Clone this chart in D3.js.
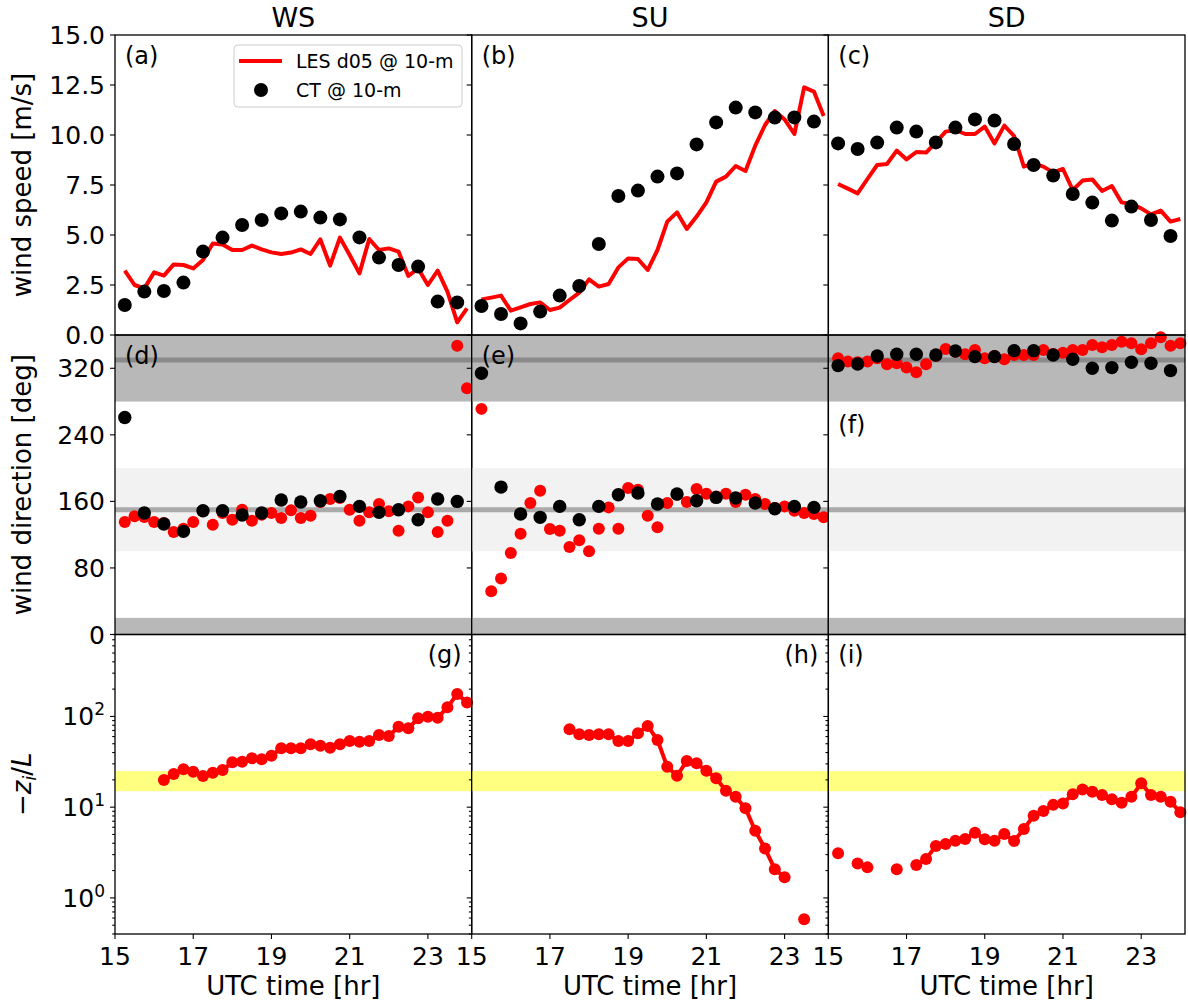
<!DOCTYPE html>
<html>
<head>
<meta charset="utf-8">
<script src="https://cdn.jsdelivr.net/npm/d3@7"></script>
<style>
  body { margin: 0; background: #fff; }
  svg { display: block; }
  text { font-family: "DejaVu Sans", sans-serif; fill: #000; }
</style>
</head>
<body>
<svg id="fig" width="1188" height="1003"></svg>
<script>
// ---- data -------------------------------------------------------------
// LES output every 15 min, tower (CT) observations every 30 min
const lesTime = [15.25, 15.5, 15.75, 16.0, 16.25, 16.5, 16.75, 17.0, 17.25, 17.5, 17.75, 18.0,
                 18.25, 18.5, 18.75, 19.0, 19.25, 19.5, 19.75, 20.0, 20.25, 20.5, 20.75, 21.0,
                 21.25, 21.5, 21.75, 22.0, 22.25, 22.5, 22.75, 23.0, 23.25, 23.5, 23.75, 24.0];
const ctTime = [15.25, 15.75, 16.25, 16.75, 17.25, 17.75, 18.25, 18.75, 19.25,
                19.75, 20.25, 20.75, 21.25, 21.75, 22.25, 22.75, 23.25, 23.75];

const siteNames = ["WS", "SU", "SD"];
const panelTags = [["(a)", "(b)", "(c)"], ["(d)", "(e)", "(f)"], ["(g)", "(h)", "(i)"]];

// wind speed [m/s]
const wsSpeedLES = [3.22, 2.5, 2.33, 3.13, 2.97, 3.53, 3.5, 3.33, 3.75, 4.58, 4.53, 4.25,
                    4.25, 4.47, 4.28, 4.13, 4.05, 4.12, 4.28, 4.05, 4.78, 3.47, 4.87, 4.0,
                    3.08, 4.8, 4.25, 4.33, 4.17, 2.95, 3.33, 2.5, 3.22, 2.17, 0.63, 1.33];
const suSpeedLES = [1.78, 1.87, 1.97, 1.22, 1.38, 1.55, 1.63, 1.25, 1.37, 1.75, 2.12, 2.78,
                    2.42, 2.55, 3.38, 3.83, 3.8, 3.25, 4.25, 5.67, 6.13, 5.3, 5.92, 6.63,
                    7.67, 7.92, 8.45, 8.2, 9.47, 10.5, 11.2, 10.78, 10.05, 12.38, 12.17, 10.95];
const sdSpeedLES = [7.55, 7.32, 7.08, 7.8, 8.5, 8.55, 9.22, 8.78, 9.15, 9.12, 9.63, 10.17,
                    10.25, 10.05, 10.05, 10.42, 9.58, 10.47, 9.95, 8.42, 8.58, 8.42, 8.13, 8.3,
                    7.25, 7.72, 7.78, 7.2, 7.45, 6.63, 6.55, 6.33, 6.03, 6.22, 5.67, 5.8];
const wsSpeedCT = [1.5, 2.17, 2.2, 2.62, 4.17, 4.87, 5.5, 5.75, 6.08, 6.17, 5.87, 5.78,
                   4.88, 3.87, 3.5, 3.42, 1.67, 1.63];
const suSpeedCT = [1.45, 1.05, 0.58, 1.17, 1.97, 2.45, 4.55, 6.95, 7.22, 7.92, 8.08, 9.53,
                   10.63, 11.37, 11.13, 10.87, 10.88, 10.67];
const sdSpeedCT = [9.58, 9.3, 9.62, 10.37, 10.17, 9.63, 10.37, 10.78, 10.72, 9.55, 8.5, 7.97,
                   7.05, 6.62, 5.72, 6.42, 5.75, 4.95];

// wind direction [deg]
const wsDirLES = [135.2, 142, 141.2, 135.2, 134, 123.2, 127.2, 135.2, 148, 132, 146, 138,
                  150, 136.8, 144, 146, 140, 149.2, 140, 142.8, 159.2, 162.8, 164, 150,
                  136.8, 146.8, 156.8, 148, 124.8, 154, 164.8, 146.8, 123.2, 136.8, 347.2, 296];
const suDirLES = [271.2, 52, 67.2, 98, 121.2, 158, 172.8, 126.8, 124.8, 105.2, 113.2, 100,
                  127.2, 152.8, 127.2, 176, 174, 142.8, 128.8, 158, 168, 159.2, 174.8, 169.2,
                  166, 169.2, 159.2, 168, 162.8, 156.8, 152, 154, 148.8, 146, 144.8, 140.8];
const sdDirLES = [332, 328, 327.2, 328, 332, 324.8, 326, 320.8, 315.2, 324.8, 334.8, 343.2,
                  340, 336.8, 342, 332, 334.8, 330.8, 336, 336, 336, 342, 337.2, 338.8,
                  342, 342, 348, 345.2, 348, 352, 350, 342.8, 350, 357.2, 347.2, 350];
const wsDirCT = [260.8, 146, 132.8, 124, 148.8, 148.8, 143.6, 146, 161.6, 159.2, 160.8, 166,
                 154, 146.8, 150, 138, 162.8, 160];
const suDirCT = [314, 177.2, 144.8, 140.8, 154, 138, 154, 168, 170, 156.8, 168.8, 160.8,
                 164.8, 164, 158, 151.2, 154, 152.8];
const sdDirCT = [323.2, 325.2, 334.8, 336.8, 336.8, 336, 340.8, 334, 334, 341.2, 341.2, 336,
                 330.8, 320, 320.8, 327.2, 326, 317.2];

// stability parameter -zi/L (null = not available)
const wsZiL = [null, null, null, null, 19.9, 23.2, 26.1, 24.6, 22.0, 24.0, 25.7, 31.2,
               31.7, 34.6, 33.7, 36.9, 44.5, 44.5, 44.5, 49.3, 47.6, 45.2, 49.3, 53.6,
               52.7, 53.6, 62.4, 60.8, 77.1, 74.0, 95.3, 99.4, 96.8, 126, 177, 142];
const suZiL = [null, null, null, null, null, null, null, null, null, 72.1, 63.5, 62.4,
               63.5, 63.5, 53.6, 53.6, 65.2, 78.5, 55.0, 27.9, 22.2, 32.3, 30.4, 25.2,
               20.8, 15.2, 13.0, 9.7, 5.5, 3.5, 2.07, 1.69, null, 0.58, null, null];
const sdZiL = [3.10, null, 2.40, 2.17, null, null, 2.07, null, 2.30, 2.69, 3.73, 3.93,
               4.27, 4.46, 5.23, 4.42, 4.27, 5.06, 4.24, 5.74, 8.05, 9.08, 10.6, 11.0,
               13.9, 15.7, 14.8, 13.6, 12.2, 11.2, 13.0, 18.3, 13.6, 13.0, 11.5, 8.77];

// axis ticks and shaded reference ranges
const timeTicks = [15, 17, 19, 21, 23];
const speedTicks = [0, 2.5, 5, 7.5, 10, 12.5, 15];
const dirTicks = [0, 80, 160, 240, 320];
const stabTicks = [1, 10, 100];
const dirBandNorth = [280, 380];   // wraps through 360
const dirBandSouth = [100, 200];
const stabBand = [15, 25];

const speedLES = [wsSpeedLES, suSpeedLES, sdSpeedLES];
const speedCT = [wsSpeedCT, suSpeedCT, sdSpeedCT];
const dirLES = [wsDirLES, suDirLES, sdDirLES];
const dirCT = [wsDirCT, suDirCT, sdDirCT];
const ziL = [wsZiL, suZiL, sdZiL];

// ---- layout -----------------------------------------------------------
const svg = d3.select("#fig");
const colLeft = [115, 471.7, 828.3];
const colW = 356.7;
const rowTop = [35, 335, 634.5];
const rowBot = [335, 634.5, 934];
const FONT_TICK = 25, FONT_LABEL = 26, FONT_TITLE = 27, FONT_TAG = 24;
const RED = "#ff0000";

const xScales = colLeft.map(l => d3.scaleLinear().domain([15, 24.12]).range([l, l + colW]));
const ySpeed = d3.scaleLinear().domain([0, 15]).range([rowBot[0], rowTop[0]]);
const yDir = d3.scaleLinear().domain([0, 360]).range([rowBot[1], rowTop[1]]);
const yStab = d3.scaleLog().domain([0.4, 800]).range([rowBot[2], rowTop[2]]);

function yTicks(g, scale, values, x0, withLabels, fmt, len) {
  values.forEach(v => {
    const y = scale(v);
    g.append("line").attr("x1", x0 - len).attr("x2", x0).attr("y1", y).attr("y2", y)
      .attr("stroke", "#000").attr("stroke-width", 1.1);
    if (withLabels && fmt) {
      fmt(g, x0 - 10, y, v);
    }
  });
}

function plainLabel(f) {
  return (g, x, y, v) => g.append("text").attr("x", x).attr("y", y + 9)
    .attr("text-anchor", "end").attr("font-size", FONT_TICK).text(f(v));
}
function powLabel(g, x, y, v) {
  const t = g.append("text").attr("x", x).attr("y", y + 9)
    .attr("text-anchor", "end").attr("font-size", FONT_TICK);
  t.append("tspan").text("10");
  t.append("tspan").attr("dy", -10).attr("font-size", 17).text(Math.round(Math.log10(v)));
}

for (let c = 0; c < 3; c++) {
  const x = xScales[c];
  const L = colLeft[c], R = L + colW;

  // column title
  svg.append("text").attr("x", (L + R) / 2).attr("y", 27).attr("text-anchor", "middle")
    .attr("font-size", FONT_TITLE).text(siteNames[c]);

  // ---------- row 1: wind speed ----------
  const g1 = svg.append("g");
  const lesS = lesTime.map((t, i) => ({ t, v: speedLES[c][i] }));
  g1.append("path").datum(lesS)
    .attr("d", d3.line().x(d => x(d.t)).y(d => ySpeed(d.v)))
    .attr("fill", "none").attr("stroke", RED).attr("stroke-width", 4)
    .attr("stroke-linejoin", "round");
  g1.selectAll("circle.ct").data(ctTime.map((t, i) => ({ t, v: speedCT[c][i] })))
    .join("circle").attr("cx", d => x(d.t)).attr("cy", d => ySpeed(d.v)).attr("r", 7)
    .attr("fill", "#000");

  // ---------- row 2: wind direction ----------
  const g2 = svg.append("g");
  const band = (lo, hi, fill) => g2.append("rect").attr("x", L).attr("width", colW)
    .attr("y", yDir(Math.min(hi, 360))).attr("height", yDir(lo) - yDir(Math.min(hi, 360)))
    .attr("fill", fill);
  band(dirBandNorth[0], 360, "#b8b8b8");
  band(0, dirBandNorth[1] - 360, "#b8b8b8");
  band(dirBandSouth[0], dirBandSouth[1], "#f2f2f2");
  const centre = (v, col) => g2.append("line").attr("x1", L).attr("x2", R)
    .attr("y1", yDir(v)).attr("y2", yDir(v)).attr("stroke", col).attr("stroke-width", 5);
  centre((dirBandNorth[0] + dirBandNorth[1]) / 2, "#8a8a8a");
  centre((dirBandSouth[0] + dirBandSouth[1]) / 2, "#aaaaaa");
  g2.selectAll("circle.les").data(lesTime.map((t, i) => ({ t, v: dirLES[c][i] })))
    .join("circle").attr("cx", d => x(d.t)).attr("cy", d => yDir(d.v)).attr("r", 6)
    .attr("fill", RED);
  g2.append("g").selectAll("circle").data(ctTime.map((t, i) => ({ t, v: dirCT[c][i] })))
    .join("circle").attr("cx", d => x(d.t)).attr("cy", d => yDir(d.v)).attr("r", 6.7)
    .attr("fill", "#000");

  // ---------- row 3: stability ----------
  const g3 = svg.append("g");
  g3.append("rect").attr("x", L).attr("width", colW)
    .attr("y", yStab(stabBand[1])).attr("height", yStab(stabBand[0]) - yStab(stabBand[1]))
    .attr("fill", "#ffff80");
  const stab = lesTime.map((t, i) => ({ t, v: ziL[c][i] }));
  g3.append("path").datum(stab)
    .attr("d", d3.line().defined(d => d.v != null).x(d => x(d.t)).y(d => yStab(d.v)))
    .attr("fill", "none").attr("stroke", RED).attr("stroke-width", 4)
    .attr("stroke-linejoin", "round");
  g3.selectAll("circle").data(stab.filter(d => d.v != null)).join("circle")
    .attr("cx", d => x(d.t)).attr("cy", d => yStab(d.v)).attr("r", 6).attr("fill", RED);

  // ---------- frames, ticks and panel tags ----------
  for (let r = 0; r < 3; r++) {
    svg.append("rect").attr("x", L).attr("y", rowTop[r]).attr("width", colW)
      .attr("height", rowBot[r] - rowTop[r]).attr("fill", "none")
      .attr("stroke", "#000").attr("stroke-width", 1.3);
  }
  const ga = svg.append("g");
  yTicks(ga, ySpeed, speedTicks, L, c === 0, plainLabel(d3.format(".1f")), 5);
  yTicks(ga, yDir, dirTicks, L, c === 0, plainLabel(d3.format("d")), 5);
  yTicks(ga, yStab, stabTicks, L, c === 0, powLabel, 5);
  const minor = [];
  [0.1, 1, 10, 100].forEach(p => d3.range(2, 10).forEach(k => {
    const v = p * k;
    if (v >= 0.4 && v <= 800) minor.push(v);
  }));
  yTicks(ga, yStab, minor, L, false, null, 2.8);

  timeTicks.forEach(t => {
    const xx = x(t);
    ga.append("line").attr("x1", xx).attr("x2", xx).attr("y1", rowBot[2]).attr("y2", rowBot[2] + 5)
      .attr("stroke", "#000").attr("stroke-width", 1.1);
    ga.append("text").attr("x", xx).attr("y", 965).attr("text-anchor", "middle")
      .attr("font-size", FONT_TICK).text(t);
  });
  ga.append("text").attr("x", (L + R) / 2).attr("y", 995).attr("text-anchor", "middle")
    .attr("font-size", FONT_LABEL).text("UTC time [hr]");

  const tag = (txt, xx, yy, anchor) => ga.append("text").attr("x", xx).attr("y", yy)
    .attr("text-anchor", anchor).attr("font-size", FONT_TAG).text(txt);
  tag(panelTags[0][c], L + 10, 64, "start");
  tag(panelTags[1][c], L + 10, c === 2 ? 433 : 364, "start");
  if (c === 2) tag(panelTags[2][c], L + 10, 663, "start");
  else tag(panelTags[2][c], R - 10, 663, "end");
}

// ---- y-axis titles ----------------------------------------------------
const ylab = (txt, yc) => svg.append("text")
  .attr("transform", `translate(31,${yc}) rotate(-90)`)
  .attr("text-anchor", "middle").attr("font-size", FONT_LABEL).text(txt);
ylab("wind speed [m/s]", (rowTop[0] + rowBot[0]) / 2);
ylab("wind direction [deg]", (rowTop[1] + rowBot[1]) / 2);
const zl = svg.append("text")
  .attr("transform", `translate(31,${(rowTop[2] + rowBot[2]) / 2}) rotate(-90)`)
  .attr("text-anchor", "middle").attr("font-size", FONT_LABEL);
zl.append("tspan").text("\u2212");
zl.append("tspan").attr("font-style", "italic").text("z");
zl.append("tspan").attr("font-style", "italic").attr("font-size", 18).attr("dy", 5).text("i");
zl.append("tspan").attr("dy", -5).text("/");
zl.append("tspan").attr("font-style", "italic").text("L");

// ---- legend (panel a) -------------------------------------------------
const lg = svg.append("g");
lg.append("rect").attr("x", 234).attr("y", 45).attr("width", 228).attr("height", 62)
  .attr("rx", 4).attr("fill", "#fff").attr("fill-opacity", 0.8)
  .attr("stroke", "#cccccc").attr("stroke-width", 1);
lg.append("line").attr("x1", 239).attr("x2", 282).attr("y1", 61).attr("y2", 61)
  .attr("stroke", RED).attr("stroke-width", 4);
lg.append("text").attr("x", 296).attr("y", 68).attr("font-size", 19).text("LES d05 @ 10-m");
lg.append("circle").attr("cx", 261).attr("cy", 90).attr("r", 7).attr("fill", "#000");
lg.append("text").attr("x", 296).attr("y", 97).attr("font-size", 19).text("CT @ 10-m");
</script>
</body>
</html>
